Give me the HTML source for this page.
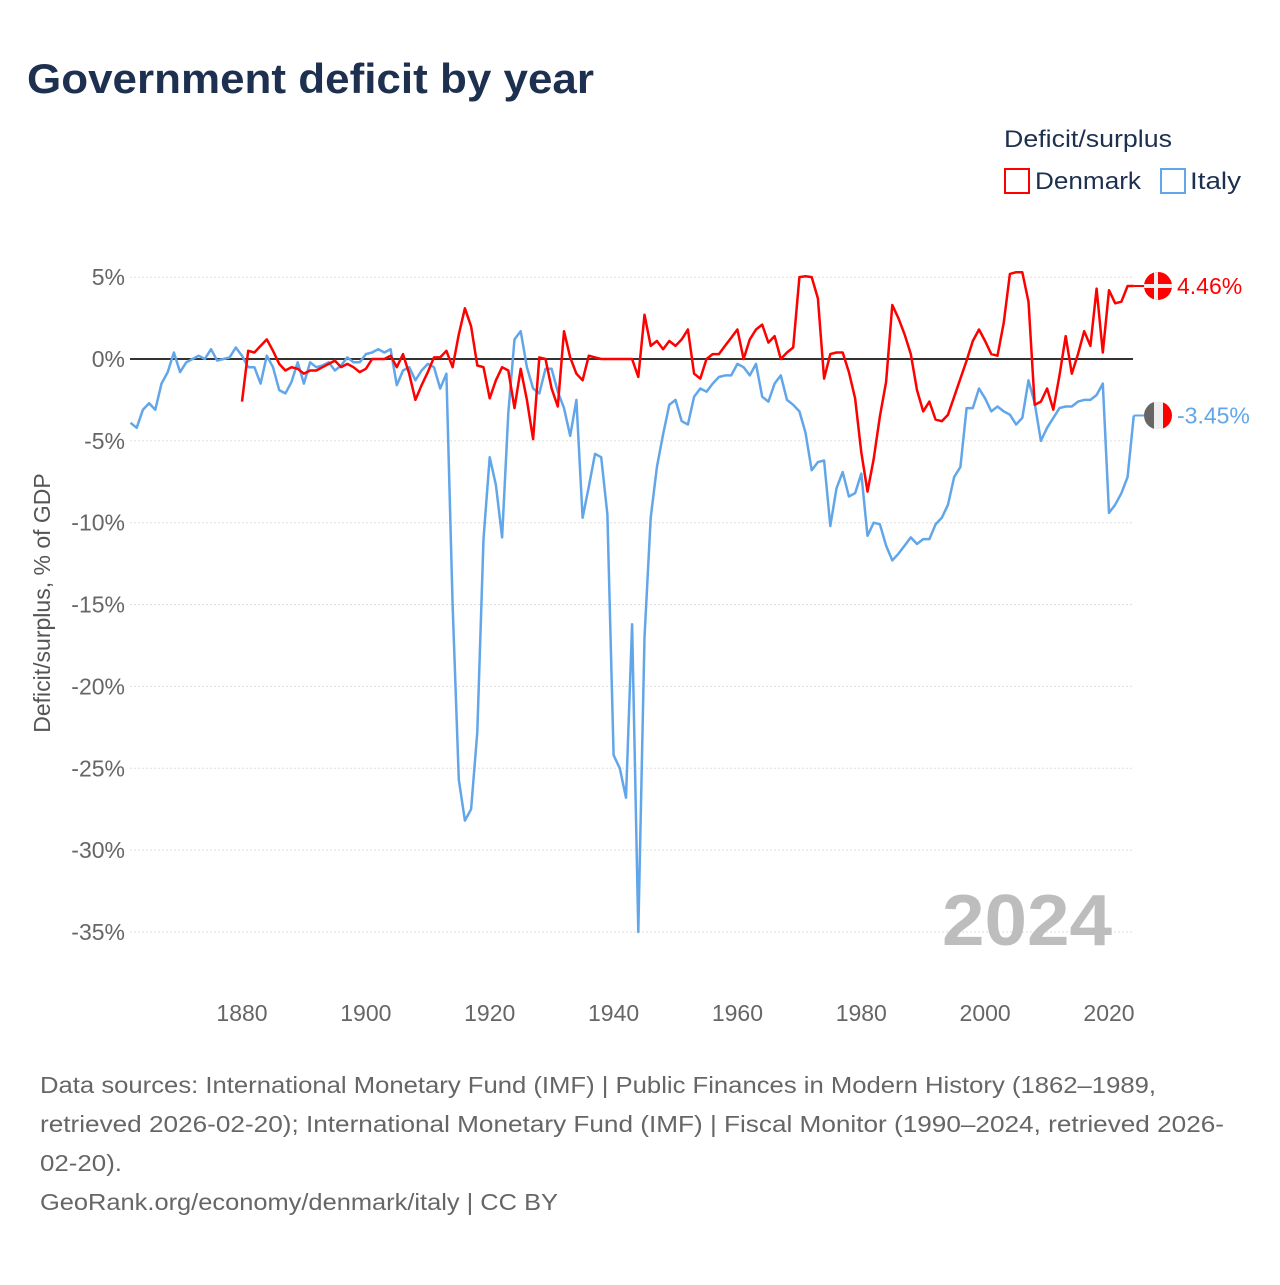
<!DOCTYPE html>
<html><head><meta charset="utf-8"><style>
body{margin:0;background:#fff}
svg text{font-family:"Liberation Sans",sans-serif}
</style></head><body>
<svg id="chart" width="1280" height="1280" viewBox="0 0 1280 1280" xmlns="http://www.w3.org/2000/svg">
<rect width="1280" height="1280" fill="#fff"/>
<text x="27" y="93" font-size="42" font-weight="bold" fill="#1e3050" textLength="567" lengthAdjust="spacingAndGlyphs">Government deficit by year</text>
<text x="1004" y="147" font-size="24" fill="#1e3050" textLength="168" lengthAdjust="spacingAndGlyphs">Deficit/surplus</text>
<g>
<rect x="1005" y="169" width="24" height="24" fill="none" stroke="#ff0000" stroke-width="2"/>
<text x="1035" y="189" font-size="24" fill="#1e3050" textLength="106" lengthAdjust="spacingAndGlyphs">Denmark</text></g>
<g>
<rect x="1161" y="169" width="24" height="24" fill="none" stroke="#62a6ea" stroke-width="2"/>
<text x="1190" y="189" font-size="24" fill="#1e3050" textLength="51" lengthAdjust="spacingAndGlyphs">Italy</text></g>
<g id="grid"></g>
<g id="yticks"></g>
<g id="xticks"></g>
<text transform="translate(50,603) rotate(-90)" text-anchor="middle" font-size="23" fill="#555">Deficit/surplus, % of GDP</text>
<text x="942" y="945" font-size="72" font-weight="bold" fill="#bdbdbd" textLength="170" lengthAdjust="spacingAndGlyphs">2024</text>
<g id="series"></g>
<g font-size="23" fill="#666">
<text x="40" y="1093" textLength="1116" lengthAdjust="spacingAndGlyphs">Data sources: International Monetary Fund (IMF) | Public Finances in Modern History (1862–1989,</text>
<text x="40" y="1132" textLength="1184" lengthAdjust="spacingAndGlyphs">retrieved 2026-02-20); International Monetary Fund (IMF) | Fiscal Monitor (1990–2024, retrieved 2026-</text>
<text x="40" y="1171" textLength="82" lengthAdjust="spacingAndGlyphs">02-20).</text>
<text x="40" y="1210" textLength="518" lengthAdjust="spacingAndGlyphs">GeoRank.org/economy/denmark/italy | CC BY</text>
</g>
</svg>
<script>
const italyStart = 1862;
const italyValues = [-3.9,-4.2,-3.1,-2.7,-3.1,-1.5,-0.8,0.4,-0.8,-0.2,0,0.2,0,0.6,-0.1,0,0.1,0.7,
0.2,-0.5,-0.5,-1.5,0.2,-0.5,-1.9,-2.1,-1.4,-0.2,
-1.5,-0.2,-0.5,-0.4,-0.2,-0.7,-0.4,0.1,-0.2,-0.2,
0.3,0.4,0.6,0.4,0.6,-1.6,-0.7,-0.5,-1.3,-0.7,
-0.3,-0.5,-1.8,-0.9,-15,-25.7,-28.2,-27.5,-22.8,-11,
-6,-7.7,-10.9,-3.3,1.2,1.7,-0.5,-1.8,-2.1,-0.6,
-0.6,-2,-3,-4.7,-2.5,-9.7,-7.8,-5.8,-6,-9.5,
-24.2,-25,-26.8,-16.2,-35,-17,-9.7,-6.6,-4.6,-2.8,
-2.5,-3.8,-4,-2.3,-1.8,-2,-1.5,-1.1,-1,-1,
-0.3,-0.5,-1,-0.3,-2.3,-2.6,-1.5,-1,-2.5,-2.8,
-3.2,-4.5,-6.8,-6.3,-6.2,-10.2,-7.9,-6.9,-8.4,-8.2,
-7,-10.8,-10,-10.1,-11.4,-12.3,-11.9,-11.4,-10.9,-11.3,
-11,-11,-10.1,-9.7,-8.9,-7.2,-6.6,-3,-3,-1.8,
-2.4,-3.2,-2.9,-3.2,-3.4,-4,-3.6,-1.3,-2.7,-5,
-4.2,-3.6,-3,-2.9,-2.9,-2.6,-2.5,-2.5,-2.2,-1.5,
-9.4,-8.9,-8.2,-7.2,-3.45];
const denmarkStart = 1880;
const denmarkValues = [-2.6,0.5,0.4,0.8,1.2,0.5,-0.3,-0.7,-0.5,-0.6,
-0.9,-0.7,-0.7,-0.5,-0.3,-0.1,-0.5,-0.3,-0.5,-0.8,
-0.6,0,0,0,0.2,-0.5,0.3,-0.9,-2.5,-1.6,
-0.8,0.1,0.1,0.5,-0.5,1.5,3.1,2,-0.4,-0.5,
-2.4,-1.3,-0.5,-0.7,-3,-0.6,-2.5,-4.9,0.1,0,
-1.8,-2.9,1.7,0.1,-0.9,-1.3,0.2,0.1,0,0,
0,0,0,0,-1.1,2.7,0.8,1.1,0.6,1.1,
0.8,1.2,1.8,-0.9,-1.2,0,0.3,0.3,0.8,1.3,
1.8,0,1.2,1.8,2.1,1,1.4,0,0.4,0.7,
5,5.05,5,3.7,-1.2,0.3,0.4,0.4,-0.8,-2.4,
-5.7,-8.1,-6.1,-3.5,-1.4,3.3,2.5,1.5,0.3,-1.9,
-3.2,-2.6,-3.7,-3.8,-3.4,-2.3,-1.2,-0.1,1.1,1.8,
1.1,0.3,0.2,2.2,5.2,5.3,5.3,3.5,-2.8,-2.6,
-1.8,-3.1,-1,1.4,-0.9,0.3,1.7,0.8,4.3,0.4,
4.2,3.4,3.5,4.46,4.46];
const yTickValues = [5,0,-5,-10,-15,-20,-25,-30,-35];
const xTickValues = [1880,1900,1920,1940,1960,1980,2000,2020];

const NS="http://www.w3.org/2000/svg";
const X0=130, X1=1133;
const xs = y => 242 + (y-1880)*(1109-242)/140;
const ys = v => 359 - v*16.37;
function mk(tag, attrs, parent){const e=document.createElementNS(NS,tag);for(const k in attrs)e.setAttribute(k,attrs[k]);parent.appendChild(e);return e;}
const grid=document.getElementById('grid'), yt=document.getElementById('yticks'), xt=document.getElementById('xticks'), ser=document.getElementById('series');
yTickValues.forEach(v=>{
  if(v!==0){const l=mk('line',{x1:X0,x2:X1,y1:ys(v),y2:ys(v),stroke:'#ddd','stroke-width':1,'stroke-dasharray':'2,2'},grid);
  
  }
  const t=mk('text',{x:125,y:ys(v)+8,'text-anchor':'end','font-size':23,fill:'#666'},yt);
  
  
  t.textContent=v+'%';
});
xTickValues.forEach(v=>{
  const t=mk('text',{x:xs(v),y:1021,'text-anchor':'middle','font-size':23,fill:'#666'},xt);
  
  
  t.textContent=v;
});
const zl=mk('line',{x1:X0,x2:X1,y1:ys(0),y2:ys(0),stroke:'#333','stroke-width':2},ser);


function line(start, vals, color, name){
  const d=vals.map((v,i)=>(i?'L':'M')+xs(start+i).toFixed(1)+','+ys(v).toFixed(1)).join('');
  const p=mk('path',{d:d,fill:'none',stroke:color,'stroke-width':2.5,'stroke-linejoin':'round'},ser);
  
  
}
line(italyStart, italyValues, '#62a6ea', 'italy-line');
line(denmarkStart, denmarkValues, '#ff0000', 'denmark-line');
function endLabel(start, vals, color, name, flag){
  const last=vals[vals.length-1], lx=xs(start+vals.length-1), ly=ys(last), cx=1158;
  const c=mk('line',{x1:lx,x2:cx,y1:ly,y2:ly,stroke:color,'stroke-width':2},ser);
  
  
  const g=mk('g',{},ser);
  
  
  const cp=mk('clipPath',{id:'cp'+name},g); mk('circle',{cx:cx,cy:ly,r:14},cp);
  const gi=mk('g',{'clip-path':'url(#cp'+name+')'},g);
  if(flag==='dk'){
    mk('rect',{x:cx-14,y:ly-14,width:28,height:28,fill:'#f00'},gi);
    mk('rect',{x:cx-14,y:ly-2,width:28,height:4,fill:'#eee'},gi);
    mk('rect',{x:cx-4,y:ly-14,width:4,height:28,fill:'#eee'},gi);
  } else {
    mk('rect',{x:cx-14,y:ly-14,width:10,height:28,fill:'#666'},gi);
    mk('rect',{x:cx-4,y:ly-14,width:9,height:28,fill:'#eee'},gi);
    mk('rect',{x:cx+5,y:ly-14,width:9,height:28,fill:'#f00'},gi);
  }
  const t=mk('text',{x:1177,y:ly+8,'font-size':23,fill:color},ser);
  
  
  t.textContent=last.toFixed(2)+'%';
}
endLabel(denmarkStart, denmarkValues, '#ff0000', 'denmark', 'dk');
endLabel(italyStart, italyValues, '#62a6ea', 'italy', 'it');
</script>
</body></html>
